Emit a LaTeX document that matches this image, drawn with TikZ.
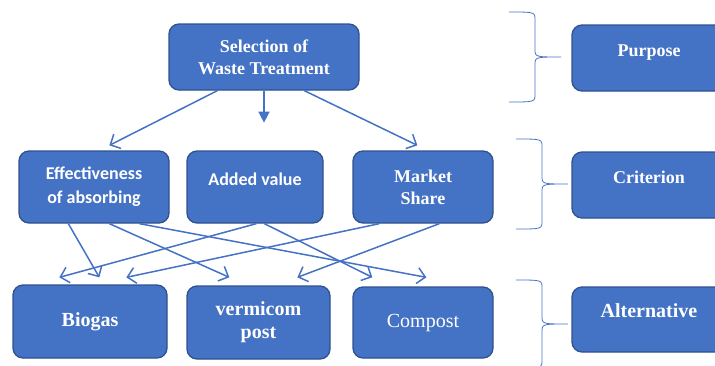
\documentclass[tikz,border=0pt]{standalone}
\usepackage{fontspec}
\setmainfont{Liberation Serif}
\newfontfamily\serifbold{Liberation Serif Bold}
\newfontfamily\calibfont{Carlito}
\usetikzlibrary{arrows.meta}
\usetikzlibrary{calc}
\usetikzlibrary{positioning}
\definecolor{boxblue}{HTML}{4472C4}
\definecolor{boxline}{HTML}{2F528F}

\begin{document}
\begin{tikzpicture}[x=1pt,y=-1pt]
	\useasboundingbox (0,0) rectangle (715,365);
	\clip (0,0) rectangle (715,365);
	\begin{scope}[every node/.style={rectangle, rounded corners=10pt, draw=boxline, fill=boxblue, line width=1.3pt,
	                                 text=white, align=center, inner sep=0pt},
	              serif/.style={font=\serifbold\fontsize{18}{22}\selectfont},
	              raised/.style={text height=12pt, text depth=16pt},
	              sansbold/.style={font=\calibfont\bfseries\fontsize{18}{24}\selectfont},
	              bigger/.style={font=\serifbold\fontsize{20}{23}\selectfont}]
		\node[serif, minimum width=190pt, minimum height=66pt] (1) at (264,57) {Selection of\\Waste Treatment};
		\node[sansbold, minimum width=150pt, minimum height=72pt] (2) at (94,187) {Effectiveness\\of absorbing};
		\node[sansbold, raised, minimum width=136pt, minimum height=72pt] (3) at (255,187) {Added value};
		\node[serif, minimum width=140pt, minimum height=72pt] (4) at (423,187) {Market\\Share};
		\node[bigger, minimum width=154pt, minimum height=73pt] (5) at (90,321.5) {Biogas};
		\node[bigger, minimum width=143pt, minimum height=73pt] (6) at (258.5,322.5) {vermicom\\post};
		\node[font=\rmfamily\mdseries\fontsize{20}{23}\selectfont, minimum width=140pt, minimum height=71pt] (7) at (423,322.5) {Compost};
		\node[serif, raised, minimum width=154pt, minimum height=66pt] (8) at (649,58) {Purpose};
		\node[serif, raised, minimum width=154pt, minimum height=66pt] (9) at (649,185) {Criterion};
		\node[bigger, raised, minimum width=154pt, minimum height=65pt] (10) at (649,319.5) {Alternative};
	\end{scope}

	% braces
	\begin{scope}[draw=boxblue, line width=0.8pt]
		\foreach \xa/\xb/\ya/\ym/\yb in {509/535/12/57/102, 516/542/139/184/229, 516/542/280/324/368}
			\draw (\xa,\ya) .. controls (\xb,\ya) .. (\xb,\ya+8) -- (\xb,\ym-8) .. controls (\xb,\ym) .. (\xb+26,\ym)
			      .. controls (\xb,\ym) .. (\xb,\ym+8) -- (\xb,\yb-8) .. controls (\xb,\yb) .. (\xa,\yb);
	\end{scope}

	\begin{scope}[>={Straight Barb[length=8pt,width=16pt]},
	              every edge/.style={draw=boxblue, line width=1.5pt, ->}]
		\path ([xshift=49pt]1.south west) edge ([xshift=91pt,yshift=5pt]2.north west);
		\path (1.south) edge[-{Triangle[length=11pt,width=11pt]}] ($(1.south)+(0,32)$);
		\path ([xshift=136pt]1.south west) edge ([xshift=65pt,yshift=5pt]4.north west);
		\path ([xshift=50pt]2.south west) edge ([xshift=87pt,yshift=7pt]5.north west);
		\path ([xshift=91pt]2.south west) edge ([xshift=43pt,yshift=8pt]6.north west);
		\path ([xshift=121pt]2.south west) edge ([xshift=74pt,yshift=9pt]7.north west);
		\path ([xshift=70pt]3.south west) edge ([xshift=47pt,yshift=7pt]5.north west);
		\path ([xshift=78pt]3.south west) edge ([xshift=20pt,yshift=9pt]7.north west);
		\path ([xshift=27pt]4.south west) edge ([xshift=114pt,yshift=7pt]5.north west);
		\path ([xshift=87pt]4.south west) edge ([xshift=111pt,yshift=8pt]6.north west);
	\end{scope}
\end{tikzpicture}
\end{document}
